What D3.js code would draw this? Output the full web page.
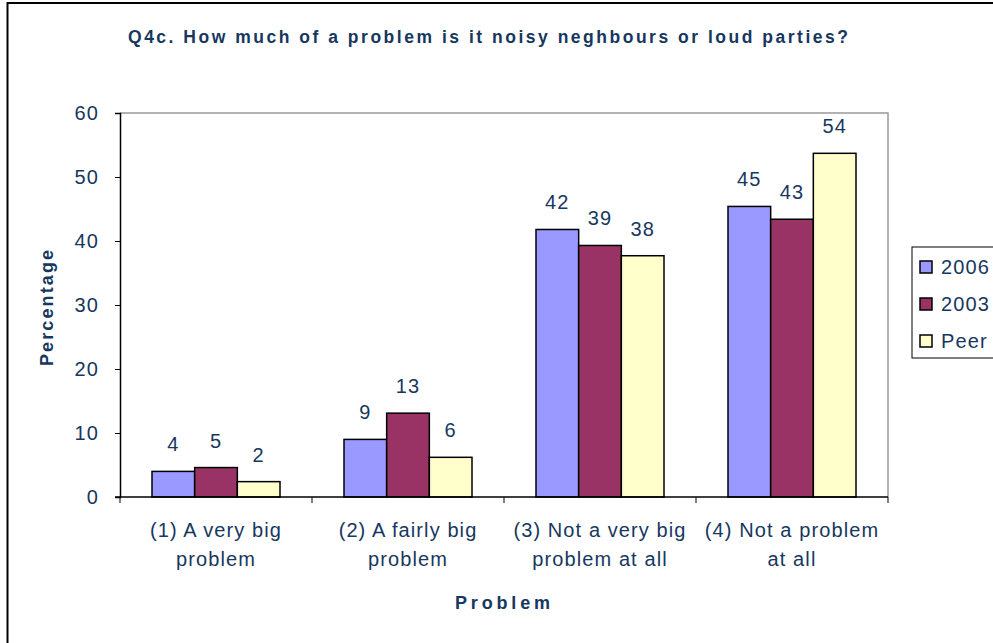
<!DOCTYPE html>
<html>
<head>
    <meta charset="utf-8">
    <title>Noisy neighbours</title>
    <style>
        body { margin: 0; background: #fff; }
        text { font-family: "Liberation Sans", Arial, sans-serif; fill: #17375e; }
    </style>
</head>
<body>
    <script src="https://cdnjs.cloudflare.com/ajax/libs/d3/7.9.0/d3.min.js"></script>
    <script>

        const categories = [
            ["(1) A very big", "problem"],
            ["(2) A fairly big", "problem"],
            ["(3) Not a very big", "problem at all"],
            ["(4) Not a problem", "at all"]
        ];
        const seriesNames = ["2006", "2003", "Peer"];
        const values2006 = [4.0, 9.0, 41.8, 45.4];
        const values2003 = [4.6, 13.1, 39.3, 43.4];
        const valuesPeer = [2.4, 6.2, 37.7, 53.7];
        const yTicks = [0, 10, 20, 30, 40, 50, 60];
        const colors = ["#9999ff", "#993366", "#ffffcc"];

        const width = 993;
        const height = 643;
        const plot = {left: 120, right: 888, top: 113, bottom: 497};
        const fs = 20;
        const ls = 1.1;

        const svg = d3.select("body")
            .append("svg")
            .attr("width", width)
            .attr("height", height);

        // chart area border (only left & top visible in the crop)
        svg.append("path")
            .attr("d", `M7.5,${height} V3 H${width}`)
            .attr("fill", "none")
            .attr("stroke", "#000")
            .attr("stroke-width", 2);

        svg.append("text")
            .attr("x", 128)
            .attr("y", 43)
            .attr("font-size", 17.5)
            .attr("font-weight", "bold")
            .attr("textLength", 720)
            .attr("lengthAdjust", "spacing")
            .text("Q4c. How much of a problem is it noisy neghbours or loud parties?");

        const data = categories.map((c, i) => ({
            cat: i,
            vals: [values2006[i], values2003[i], valuesPeer[i]]
        }));

        const x0 = d3.scaleBand()
            .domain(d3.range(categories.length))
            .range([plot.left, plot.right]);

        const x1 = d3.scaleBand()
            .domain(d3.range(seriesNames.length))
            .range([0, x0.bandwidth()])
            .paddingOuter(0.75)
            .paddingInner(0);

        const y = d3.scaleLinear()
            .domain([0, 60])
            .range([plot.bottom, plot.top]);

        // plot area frame: grey top/right
        svg.append("path")
            .attr("d", `M${plot.left},${plot.top} H${plot.right} V${plot.bottom}`)
            .attr("fill", "none")
            .attr("stroke", "#999")
            .attr("stroke-width", 1.5);

        const groups = svg.selectAll(".grp")
            .data(data)
            .enter()
            .append("g")
            .attr("transform", d => `translate(${x0(d.cat)},0)`);

        groups.selectAll("rect")
            .data(d => d.vals)
            .enter()
            .append("rect")
            .attr("x", (v, j) => x1(j))
            .attr("y", v => y(v))
            .attr("width", x1.bandwidth())
            .attr("height", v => y(0) - y(v))
            .attr("fill", (v, j) => colors[j])
            .attr("stroke", "#000")
            .attr("stroke-width", 1.5);

        groups.selectAll(".lbl")
            .data(d => d.vals)
            .enter()
            .append("text")
            .attr("x", (v, j) => x1(j) + x1.bandwidth() / 2)
            .attr("y", v => y(v) - 20)
            .attr("text-anchor", "middle")
            .attr("font-size", fs)
            .attr("letter-spacing", ls)
            .text(v => d3.format(".0f")(v));

        // y axis
        const yAxis = svg.append("g")
            .attr("transform", `translate(${plot.left},0)`)
            .call(d3.axisLeft(y).tickValues(yTicks).tickSize(5).tickPadding(16));
        yAxis.select(".domain").attr("stroke", "#000").attr("stroke-width", 1.5);
        yAxis.selectAll("text")
            .attr("font-size", fs)
            .attr("letter-spacing", ls)
            .attr("font-family", null)
            .attr("fill", null);

        // x axis
        const xAxis = svg.append("g")
            .attr("transform", `translate(0,${plot.bottom})`);
        xAxis.append("line")
            .attr("x1", plot.left - 5).attr("x2", plot.right)
            .attr("stroke", "#000").attr("stroke-width", 1.5);
        xAxis.selectAll(".tk")
            .data(d3.range(categories.length + 1))
            .enter()
            .append("line")
            .attr("x1", i => i < categories.length ? x0(i) : plot.right)
            .attr("x2", i => i < categories.length ? x0(i) : plot.right)
            .attr("y1", 0).attr("y2", 6)
            .attr("stroke", "#000");

        xAxis.selectAll(".cat")
            .data(categories)
            .enter()
            .append("text")
            .attr("text-anchor", "middle")
            .attr("font-size", fs)
            .attr("letter-spacing", ls)
            .attr("transform", (c, i) => `translate(${x0(i) + x0.bandwidth() / 2},0)`)
            .selectAll("tspan")
            .data(c => c)
            .enter()
            .append("tspan")
            .attr("x", 0)
            .attr("y", (t, k) => 40 + k * 29)
            .text(t => t);

        svg.append("text")
            .attr("transform", "translate(53,250) rotate(-90)")
            .attr("text-anchor", "end")
            .attr("font-size", 18)
            .attr("font-weight", "bold")
            .attr("textLength", 116)
            .attr("lengthAdjust", "spacing")
            .text("Percentage");

        svg.append("text")
            .attr("x", 455)
            .attr("y", 609)
            .attr("font-size", 18)
            .attr("font-weight", "bold")
            .attr("textLength", 95)
            .attr("lengthAdjust", "spacing")
            .text("Problem");

        // legend
        const legend = svg.append("g");
        legend.append("rect")
            .attr("x", 912).attr("y", 247)
            .attr("width", 100).attr("height", 111)
            .attr("fill", "#fff")
            .attr("stroke", "#000");
        const items = legend.selectAll(".item")
            .data(seriesNames)
            .enter()
            .append("g")
            .attr("transform", (s, i) => `translate(920,${267 + i * 37})`);
        items.append("rect")
            .attr("x", 0).attr("y", -6)
            .attr("width", 12).attr("height", 12)
            .attr("fill", (s, i) => colors[i])
            .attr("stroke", "#000")
            .attr("stroke-width", 1.5);
        items.append("text")
            .attr("x", 21)
            .attr("y", 7)
            .attr("font-size", fs)
            .attr("letter-spacing", ls)
            .text(s => s);

    </script>
</body>
</html>
